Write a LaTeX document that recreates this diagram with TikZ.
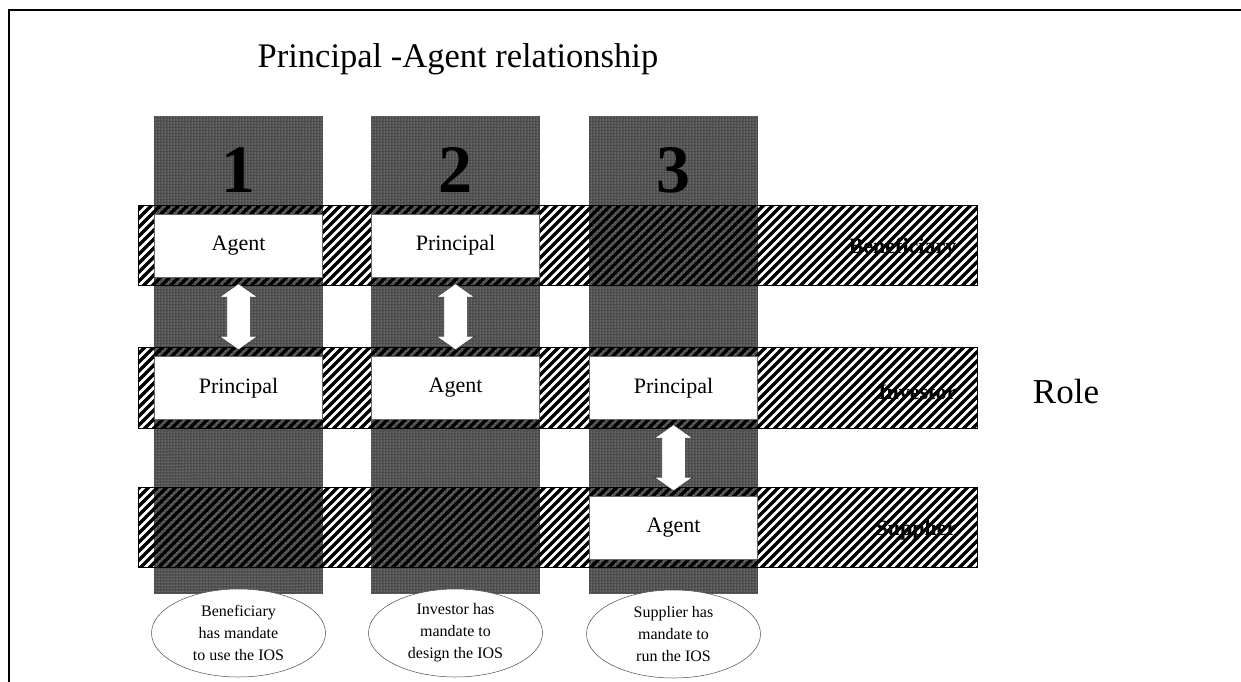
\documentclass[tikz,border=0pt]{standalone}
\usepackage{fontspec}
\setmainfont{Liberation Serif}
\usetikzlibrary{shapes.geometric, shapes.arrows, patterns, calc}
\tikzset{every picture/.style={line width=0.75pt}}

\pgfdeclarepatternformonly{rolehatch}{\pgfpoint{-1pt}{-1pt}}{\pgfpoint{10pt}{10pt}}{\pgfpoint{9pt}{9pt}}{
  \pgfsetlinewidth{3.3pt}
  \pgfpathmoveto{\pgfpoint{-1pt}{-1pt}}
  \pgfpathlineto{\pgfpoint{10pt}{10pt}}
  \pgfusepath{stroke}
}

\tikzset{
  band/.style={rectangle, fill=white, minimum width=838pt, minimum height=80pt, inner sep=0pt},
  hatchband/.style={draw=black, line width=0.8pt, pattern=rolehatch},
  colbar/.style={rectangle, draw=black!70, line width=0.5pt, fill=black!70,
    postaction={pattern=dots, pattern color=white!85!black},
    minimum width=168pt, minimum height=477pt, inner sep=0pt},
  colnum/.style={font=\bfseries\fontsize{68}{70}\selectfont},
  rolebox/.style={rectangle, draw=black!60, line width=0.6pt, fill=white,
    minimum width=168pt, minimum height=63pt, inner sep=0pt, font=\fontsize{22}{24}\selectfont},
  rolename/.style={anchor=east, font=\bfseries\fontsize{22}{24}\selectfont},
  swaparrow/.style={double arrow, draw=black!75, line width=0.6pt, fill=white, rotate=90,
    minimum height=66pt, inner xsep=0pt, inner ysep=11.5pt, double arrow head extend=7.5pt,
    double arrow tip angle=110},
  mandate/.style={ellipse, draw=black!70, line width=0.5pt, fill=white,
    minimum width=174pt, minimum height=88pt, inner sep=0pt, align=center,
    font=\fontsize{16}{22}\selectfont}
}

\begin{document}
\begin{tikzpicture}[x=1pt,y=1pt,yscale=-1,xscale=1]
    \useasboundingbox (0,0) rectangle (1241,681);
    \draw[line width=2.5pt] (9,10) rectangle (1300,720);
    \node[anchor=base west, font=\fontsize{34.5}{40}\selectfont] (title) at (254,67) {Principal -Agent relationship};
    % bands, white ground first
    \node[band] (ben) at (558,245.5) {};
    \node[band] (inv) at (558,388) {};
    \node[band] (sup) at (558,527.5) {};
    % columns
    \foreach \i/\x in {1/238.5, 2/455.5, 3/673.5} {
        \node[colbar] (col\i) at (\x,354.5) {};
        \node[colnum] (num\i) at (\x,170) {\i};
    }
    % hatching goes over the columns
    \foreach \b in {ben, inv, sup}
        \draw[hatchband] (\b.north west) rectangle (\b.south east);
    \node[rolename] (benname) at (960,248) {Beneficiary};
    \node[rolename] (invname) at (960,392) {Investor};
    \node[rolename] (supname) at (960,530) {Supplier};
    \node[font=\fontsize{35}{40}\selectfont] (role) at (1066,392) {Role};
    % roles
    \node[rolebox] (ben1) at (col1 |- ben) {Agent};
    \node[rolebox] (ben2) at (col2 |- ben) {Principal};
    \node[rolebox] (inv1) at (col1 |- inv) {Principal};
    \node[rolebox] (inv2) at (col2 |- inv) {Agent};
    \node[rolebox] (inv3) at (col3 |- inv) {Principal};
    \node[rolebox] (sup3) at (col3 |- sup) {Agent};
    \node[swaparrow] (arr1) at ($(ben1.south)!0.5!(inv1.north)$) {};
    \node[swaparrow] (arr2) at ($(ben2.south)!0.5!(inv2.north)$) {};
    \node[swaparrow] (arr3) at ($(inv3.south)!0.5!(sup3.north)$) {};
    % mandates
    \node[mandate] (mand1) at (238.5,633) {Beneficiary\\has mandate\\to use the IOS};
    \node[mandate] (mand2) at (455.5,633) {Investor has\\mandate to\\design the IOS};
    \node[mandate] (mand3) at (673.5,634) {Supplier has\\mandate to\\run the IOS};
\end{tikzpicture}
\end{document}
